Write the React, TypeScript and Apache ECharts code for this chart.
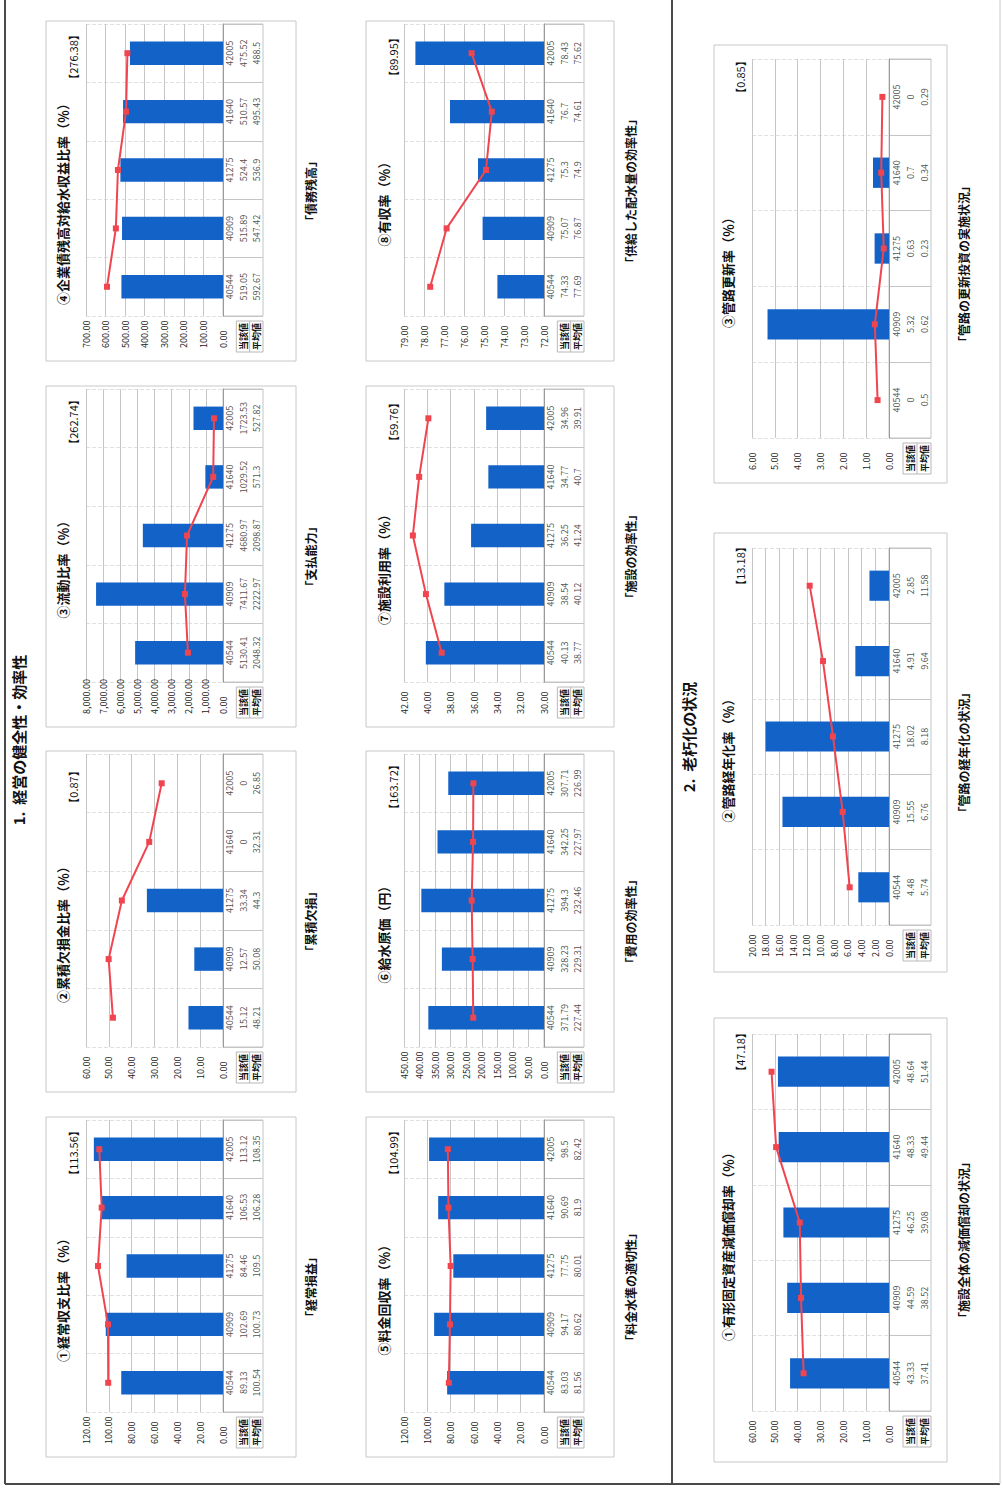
import React, { useEffect, useRef } from "react";
import * as echarts from "echarts";

const categories = ["40544", "40909", "41275", "41640", "42005"];

const keijoCur = [89.13, 102.69, 84.46, 106.53, 113.12];
const keijoAvg = [100.54, 100.73, 109.5, 106.28, 108.35];
const ruisekiCur = [15.12, 12.57, 33.34, 0, 0];
const ruisekiAvg = [48.21, 50.08, 44.3, 32.31, 26.85];
const ryudoCur = [5130.41, 7411.67, 4680.97, 1029.52, 1723.53];
const ryudoAvg = [2048.32, 2222.97, 2098.87, 571.3, 527.82];
const kigyosaiCur = [519.05, 515.89, 524.4, 510.57, 475.52];
const kigyosaiAvg = [592.67, 547.42, 536.9, 495.43, 488.5];
const ryokinCur = [83.03, 94.17, 77.75, 90.69, 98.5];
const ryokinAvg = [81.56, 80.62, 80.01, 81.9, 82.42];
const kyusuiCur = [371.79, 328.23, 394.3, 342.25, 307.71];
const kyusuiAvg = [227.44, 229.31, 232.46, 227.97, 226.99];
const shisetsuCur = [40.13, 38.54, 36.25, 34.77, 34.96];
const shisetsuAvg = [38.77, 40.12, 41.24, 40.7, 39.91];
const yushuCur = [74.33, 75.07, 75.3, 76.7, 78.43];
const yushuAvg = [77.69, 76.87, 74.9, 74.61, 75.62];
const genkaCur = [43.33, 44.59, 46.25, 48.33, 48.64];
const genkaAvg = [37.41, 38.52, 39.08, 49.44, 51.44];
const keinenCur = [4.48, 15.55, 18.02, 4.91, 2.85];
const keinenAvg = [5.74, 6.76, 8.18, 9.64, 11.58];
const koshinCur = [0, 5.32, 0.63, 0.7, 0];
const koshinAvg = [0.5, 0.62, 0.23, 0.34, 0.29];

const rowHeaders = ["当該値", "平均値"];
const sectionTitles = ["1.  経営の健全性・効率性", "2.  老朽化の状況"];

const FONT = '"Noto Sans CJK JP", "Noto Sans", sans-serif';
const BLUE = "#1262c8";
const RED = "#f0454f";

type Layout = { col: string; row: number };

const charts = [
  { title: "①経常収支比率（％）", badge: "【113.56】", caption: "「経常損益」", cur: keijoCur, avg: keijoAvg, min: 0, max: 120, interval: 20, comma: false, col: "A", row: 0 },
  { title: "②累積欠損金比率（％）", badge: "【0.87】", caption: "「累積欠損」", cur: ruisekiCur, avg: ruisekiAvg, min: 0, max: 60, interval: 10, comma: false, col: "A", row: 1 },
  { title: "③流動比率（％）", badge: "【262.74】", caption: "「支払能力」", cur: ryudoCur, avg: ryudoAvg, min: 0, max: 8000, interval: 1000, comma: true, col: "A", row: 2 },
  { title: "④企業債残高対給水収益比率（％）", badge: "【276.38】", caption: "「債務残高」", cur: kigyosaiCur, avg: kigyosaiAvg, min: 0, max: 700, interval: 100, comma: false, col: "A", row: 3 },
  { title: "⑤料金回収率（％）", badge: "【104.99】", caption: "「料金水準の適切性」", cur: ryokinCur, avg: ryokinAvg, min: 0, max: 120, interval: 20, comma: false, col: "B", row: 0 },
  { title: "⑥給水原価（円）", badge: "【163.72】", caption: "「費用の効率性」", cur: kyusuiCur, avg: kyusuiAvg, min: 0, max: 450, interval: 50, comma: false, col: "B", row: 1 },
  { title: "⑦施設利用率（％）", badge: "【59.76】", caption: "「施設の効率性」", cur: shisetsuCur, avg: shisetsuAvg, min: 30, max: 42, interval: 2, comma: false, col: "B", row: 2 },
  { title: "⑧有収率（％）", badge: "【89.95】", caption: "「供給した配水量の効率性」", cur: yushuCur, avg: yushuAvg, min: 72, max: 79, interval: 1, comma: false, col: "B", row: 3 },
  { title: "①有形固定資産減価償却率（％）", badge: "【47.18】", caption: "「施設全体の減価償却の状況」", cur: genkaCur, avg: genkaAvg, min: 0, max: 60, interval: 10, comma: false, col: "C", row: 0 },
  { title: "②管路経年化率（％）", badge: "【13.18】", caption: "「管路の経年化の状況」", cur: keinenCur, avg: keinenAvg, min: 0, max: 20, interval: 2, comma: false, col: "C", row: 1 },
  { title: "③管路更新率（％）", badge: "【0.85】", caption: "「管路の更新投資の実施状況」", cur: koshinCur, avg: koshinAvg, min: 0, max: 6, interval: 1, comma: false, col: "C", row: 2 },
];

const colLayout: Record<string, any> = {
  A: { boxX: 46, boxW: 250, plotL: 86, plotR: 223, titleX: 62, badgeX: 73, capX: 310, tableW: 40 },
  B: { boxX: 366, boxW: 248, plotL: 404, plotR: 544, titleX: 383, badgeX: 393, capX: 630, tableW: 40 },
  C: { boxX: 714, boxW: 233, plotL: 752, plotR: 889, titleX: 727, badgeX: 740, capX: 963, tableW: 42 },
};
const rowsS1 = [
  { plotT: 1120, plotB: 1412 },
  { plotT: 754, plotB: 1047 },
  { plotT: 389, plotB: 682 },
  { plotT: 24, plotB: 316 },
];
const rowsS2 = [
  { plotT: 1034, plotB: 1411, boxT: 1018, boxB: 1462 },
  { plotT: 548, plotB: 925, boxT: 533, boxB: 972 },
  { plotT: 59, plotB: 438, boxT: 45, boxB: 483 },
];

function buildOption() {
  const grid: any[] = [];
  const xAxis: any[] = [];
  const yAxis: any[] = [];
  const series: any[] = [];
  const graphic: any[] = [];

  // page frame
  const frame = { stroke: "#4a4a4a", lineWidth: 2 };
  graphic.push({ type: "line", shape: { x1: 5, y1: 0, x2: 5, y2: 1484 }, style: frame });
  graphic.push({ type: "line", shape: { x1: 5, y1: 1484, x2: 1000, y2: 1484 }, style: frame });
  graphic.push({ type: "line", shape: { x1: 672, y1: 0, x2: 672, y2: 1484 }, style: frame });
  graphic.push({ type: "line", shape: { x1: 1000, y1: 0, x2: 1000, y2: 1484 }, style: { stroke: "#c8c8c8", lineWidth: 1 } });

  graphic.push({
    type: "text", x: 18, y: 740, rotation: Math.PI / 2,
    style: { text: sectionTitles[0], font: `bold 15px ${FONT}`, fill: "#111", textAlign: "center", textVerticalAlign: "middle" },
  });
  graphic.push({
    type: "text", x: 688, y: 737, rotation: Math.PI / 2,
    style: { text: sectionTitles[1], font: `bold 15px ${FONT}`, fill: "#111", textAlign: "center", textVerticalAlign: "middle" },
  });

  charts.forEach((c, i) => {
    const L = colLayout[c.col];
    const s2 = c.col === "C";
    const r = s2 ? rowsS2[c.row] : rowsS1[c.row];
    const plotT = r.plotT;
    const plotB = r.plotB;
    const boxT = s2 ? (r as any).boxT : plotT - 3;
    const boxB = s2 ? (r as any).boxB : plotB + 45;
    const tw = L.tableW;

    grid.push({ left: L.plotL, top: plotT, width: L.plotR - L.plotL, height: plotB - plotT, containLabel: false });
    grid.push({
      left: L.plotR, top: plotT, width: tw, height: plotB - plotT,
      show: true, borderColor: "#c4c4c4", borderWidth: 1, backgroundColor: "transparent",
    });
    const gp = 2 * i;
    const gt = 2 * i + 1;

    xAxis.push({
      gridIndex: gp, type: "value", inverse: true, position: "bottom",
      min: c.min, max: c.max, interval: c.interval,
      axisLine: { show: false }, axisTick: { show: false },
      splitLine: { show: true, lineStyle: { color: "#c6c6c6", width: 1 } },
      axisLabel: {
        rotate: 90, align: "left", verticalAlign: "middle", margin: 32,
        fontSize: 9, color: "#222", fontFamily: FONT,
        formatter: (v: number) =>
          c.comma ? v.toLocaleString("en-US", { minimumFractionDigits: 2, maximumFractionDigits: 2 }) : v.toFixed(2),
      },
    });
    xAxis.push({ gridIndex: gt, type: "value", min: 0, max: 3, show: false });

    yAxis.push({
      gridIndex: gp, type: "category", data: categories, position: "right",
      axisLine: { show: true, onZero: false, lineStyle: { color: "#9a9a9a" } },
      axisTick: { show: false }, axisLabel: { show: false },
      splitLine: { show: true, lineStyle: { color: "#e0e0e0", type: "dashed" } },
    });
    yAxis.push({
      gridIndex: gt, type: "category", data: categories,
      axisLine: { show: false }, axisTick: { show: false }, axisLabel: { show: false },
      splitLine: { show: true, lineStyle: { color: "#c4c4c4" } },
    });

    series.push({
      type: "bar", name: rowHeaders[0], xAxisIndex: gp, yAxisIndex: gp,
      data: c.cur, barWidth: "40%", itemStyle: { color: BLUE }, z: 2,
    });
    series.push({
      type: "line", name: rowHeaders[1], xAxisIndex: gp, yAxisIndex: gp,
      data: c.avg, symbol: "rect", symbolSize: 6,
      lineStyle: { color: RED, width: 2 }, itemStyle: { color: RED }, z: 3,
    });
    const tableData: any[] = [];
    categories.forEach((cat, k) => {
      tableData.push({ value: [0.5, k], t: cat });
      tableData.push({ value: [1.5, k], t: String(c.cur[k]) });
      tableData.push({ value: [2.5, k], t: String(c.avg[k]) });
    });
    series.push({
      type: "scatter", xAxisIndex: gt, yAxisIndex: gt, silent: true,
      data: tableData, symbolSize: 1, itemStyle: { color: "rgba(0,0,0,0)" },
      label: {
        show: true, position: "inside", rotate: 90,
        formatter: (p: any) => p.data.t,
        fontSize: 9, color: "#222", fontFamily: FONT,
      },
    });

    // box
    graphic.push({
      type: "rect", shape: { x: L.boxX, y: boxT, width: L.boxW, height: boxB - boxT },
      style: { fill: "none", stroke: "#c8c8c8", lineWidth: 1 }, z: -1,
    });
    const plotMid = (plotT + plotB) / 2;
    graphic.push({
      type: "text", x: L.titleX, y: plotMid + (s2 ? 21 : 31), rotation: Math.PI / 2,
      style: { text: c.title, font: `bold 13px ${FONT}`, fill: "#111", textAlign: "center", textVerticalAlign: "middle" },
    });
    graphic.push({
      type: "text", x: L.badgeX, y: plotT + (s2 ? 18 : 33), rotation: Math.PI / 2,
      style: { text: c.badge, font: `11px ${FONT}`, fill: "#111", textAlign: "center", textVerticalAlign: "middle" },
    });
    graphic.push({
      type: "text", x: L.capX, y: (boxT + boxB) / 2, rotation: Math.PI / 2,
      style: { text: c.caption, font: `bold 12px ${FONT}`, fill: "#111", textAlign: "center", textVerticalAlign: "middle" },
    });
    // header cells
    const hx = L.plotR + tw / 3;
    graphic.push({
      type: "rect", shape: { x: hx, y: plotB + 5, width: (2 * tw) / 3, height: 31 },
      style: { fill: "none", stroke: "#b8b8b8", lineWidth: 1 },
    });
    graphic.push({
      type: "line", shape: { x1: hx + tw / 3, y1: plotB + 5, x2: hx + tw / 3, y2: plotB + 36 },
      style: { stroke: "#b8b8b8", lineWidth: 1 },
    });
    rowHeaders.forEach((h, j) => {
      graphic.push({
        type: "text", x: hx + tw / 6 + (j * tw) / 3, y: plotB + 20.5, rotation: Math.PI / 2,
        style: { text: h, font: `bold 9px ${FONT}`, fill: "#111", textAlign: "center", textVerticalAlign: "middle" },
      });
    });
  });

  return {
    animation: false,
    backgroundColor: "#ffffff",
    textStyle: { fontFamily: FONT },
    grid, xAxis, yAxis, series, graphic,
  };
}

export default function App() {
  const ref = useRef<HTMLDivElement>(null);
  useEffect(() => {
    if (!ref.current) return;
    const chart = echarts.init(ref.current, null, { renderer: "svg", width: 1003, height: 1488 });
    chart.setOption(buildOption() as any);
    return () => chart.dispose();
  }, []);
  return (
    <div
      ref={ref}
      style={{ position: "absolute", left: 0, top: 0, width: 1003, height: 1488, background: "#fff" }}
    />
  );
}
